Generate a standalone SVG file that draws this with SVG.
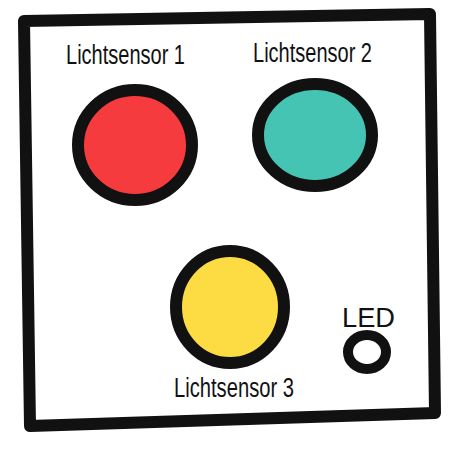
<svg xmlns="http://www.w3.org/2000/svg" width="475" height="449" viewBox="0 0 475 449">
<style>
.ln{fill:none;stroke:#111;stroke-width:12;stroke-linejoin:round;stroke-linecap:round}
.ring{stroke:#111;stroke-width:12}
.t{font-family:"Liberation Sans",Arial,sans-serif;font-size:27px;fill:#111}
</style>
<rect width="475" height="449" fill="#fff"/>
<g id="frame"><path class="ln" d="M24,21 L430,14 L435,413 L30,426 Z"/></g>
<g id="sensor1">
<ellipse class="ring" cx="135" cy="145" rx="57" ry="55" fill="#F63B3E"/>
<text class="t" x="66" y="64" textLength="119" lengthAdjust="spacingAndGlyphs">Lichtsensor 1</text>
</g>
<g id="sensor2">
<ellipse class="ring" cx="315" cy="135" rx="57" ry="51" fill="#45C4B4"/>
<text class="t" x="253" y="62" textLength="119" lengthAdjust="spacingAndGlyphs">Lichtsensor 2</text>
</g>
<g id="sensor3">
<ellipse class="ring" cx="230" cy="307" rx="54" ry="56" fill="#FCDC42"/>
<text class="t" x="174" y="397" textLength="120" lengthAdjust="spacingAndGlyphs">Lichtsensor 3</text>
</g>
<g id="led">
<ellipse cx="367" cy="352" rx="19" ry="17" fill="none" stroke="#111" stroke-width="10"/>
<text class="t" x="342" y="327" font-size="26" textLength="53" lengthAdjust="spacingAndGlyphs">LED</text>
</g>
</svg>
